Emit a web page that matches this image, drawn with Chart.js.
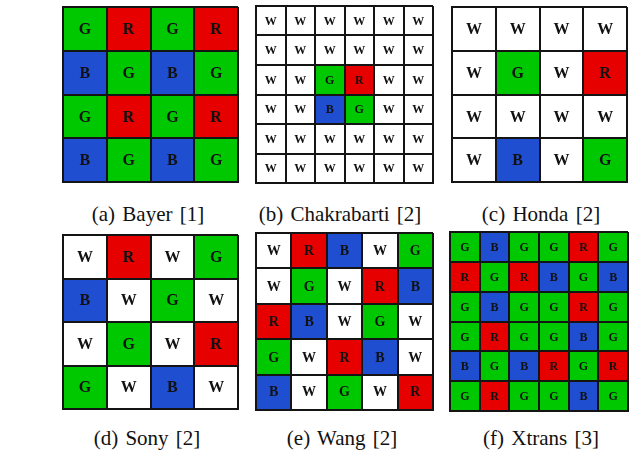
<!DOCTYPE html>
<html>
<head>
<meta charset="utf-8">
<script src="https://cdn.jsdelivr.net/npm/chart.js@4/dist/chart.umd.min.js"></script>
<style>
  html, body { margin: 0; padding: 0; background: #fff; }
  #page { position: relative; width: 629px; height: 453px; overflow: hidden; }
  canvas { position: absolute; }
  .cap {
    position: absolute; width: 220px; text-align: center;
    font-family: 'Liberation Serif', 'Times New Roman', serif;
    font-size: 21px; line-height: 24px; word-spacing: 2px; color: #111;
    white-space: nowrap;
  }
</style>
</head>
<body>
<div id="page"></div>
<script>
// Colour filter array layouts, one string per row (top row first).
const bayer = ["GRGR", "BGBG", "GRGR", "BGBG"];
const chakrabarti = ["WWWWWW", "WWWWWW", "WWGRWW", "WWBGWW", "WWWWWW", "WWWWWW"];
const honda = ["WWWW", "WGWR", "WWWW", "WBWG"];
const sony = ["WRWG", "BWGW", "WGWR", "GWBW"];
const wang = ["WRBWG", "WGWRB", "RBWGW", "GWRBW", "BWGWR"];
const xtrans = ["GBGGRG", "RGRBGB", "GBGGRG", "GRGGBG", "BGBRGR", "GRGGBG"];

const captions = ["(a) Bayer [1]", "(b) Chakrabarti [2]", "(c) Honda [2]",
                  "(d) Sony [2]", "(e) Wang [2]", "(f) Xtrans [3]"];

const filterColors = { R: "#e60000", G: "#00c800", B: "#1f4ed0", W: "#ffffff" };

// Panel placement on the page: grid box plus caption row.
const panels = [
  { rows: bayer,       box: [63, 7, 175, 175],   font: 16, capX: 148, capY: 202 },
  { rows: chakrabarti, box: [256, 6, 177, 177],  font: 12, capX: 340, capY: 202 },
  { rows: honda,       box: [452, 7, 175, 175],  font: 16, capX: 541, capY: 202 },
  { rows: sony,        box: [63, 235, 175, 174], font: 16, capX: 147, capY: 426 },
  { rows: wang,        box: [256, 233, 177, 177],font: 14, capX: 342, capY: 426 },
  { rows: xtrans,      box: [450, 232, 178, 179],font: 12, capX: 541, capY: 426 }
];

// Writes the filter letter in the middle of each cell.
const letterPlugin = {
  id: "cellLetters",
  afterDraw(chart) {
    const ctx = chart.ctx;
    const size = chart.options.plugins.cellLetters.size;
    ctx.save();
    ctx.fillStyle = "#111";
    ctx.font = "bold " + size + "px 'Liberation Serif', serif";
    ctx.textAlign = "center";
    ctx.textBaseline = "middle";
    chart.data.datasets.forEach((ds, di) => {
      const meta = chart.getDatasetMeta(di);
      meta.data.forEach((bar, ci) => {
        const cy = (bar.y + bar.base) / 2;
        ctx.fillText(ds.letters[ci], bar.x, cy + 1);
      });
    });
    ctx.restore();
  }
};

const page = document.getElementById("page");
const pad = 2;

panels.forEach((p, idx) => {
  const n = p.rows.length;
  const m = p.rows[0].length;
  const [x, y, w, h] = p.box;

  const canvas = document.createElement("canvas");
  canvas.width = w + 2 * pad;
  canvas.height = h + 2 * pad;
  canvas.style.left = (x - pad) + "px";
  canvas.style.top = (y - pad) + "px";
  page.appendChild(canvas);

  // Stacked unit bars: bottom row first so the top string ends up on top.
  const datasets = [];
  for (let r = n - 1; r >= 0; r--) {
    const letters = p.rows[r].split("");
    datasets.push({
      data: letters.map(() => 1),
      letters: letters,
      backgroundColor: letters.map(c => filterColors[c]),
      borderWidth: 0,
      barPercentage: 1,
      categoryPercentage: 1
    });
  }

  const gridStyle = { color: "#141414", lineWidth: 2, drawTicks: false, z: 1 };
  const borderStyle = { display: true, color: "#141414", width: 2, z: 1 };

  new Chart(canvas, {
    type: "bar",
    data: { labels: letterIndex(m), datasets: datasets },
    options: {
      responsive: false,
      animation: false,
      devicePixelRatio: 1,
      layout: { padding: pad },
      events: [],
      scales: {
        x: { stacked: true, offset: true, grid: Object.assign({ offset: true }, gridStyle),
             border: borderStyle, ticks: { display: false } },
        y: { stacked: true, min: 0, max: n, grid: gridStyle, border: borderStyle,
             ticks: { display: false, stepSize: 1 } }
      },
      plugins: {
        legend: { display: false },
        tooltip: { enabled: false },
        cellLetters: { size: p.font }
      }
    },
    plugins: [letterPlugin]
  });

  const cap = document.createElement("div");
  cap.className = "cap";
  cap.textContent = captions[idx];
  cap.style.left = (p.capX - 110) + "px";
  cap.style.top = p.capY + "px";
  page.appendChild(cap);
});

function letterIndex(m) {
  const out = [];
  for (let i = 0; i < m; i++) out.push(String(i + 1));
  return out;
}
</script>
</body>
</html>
